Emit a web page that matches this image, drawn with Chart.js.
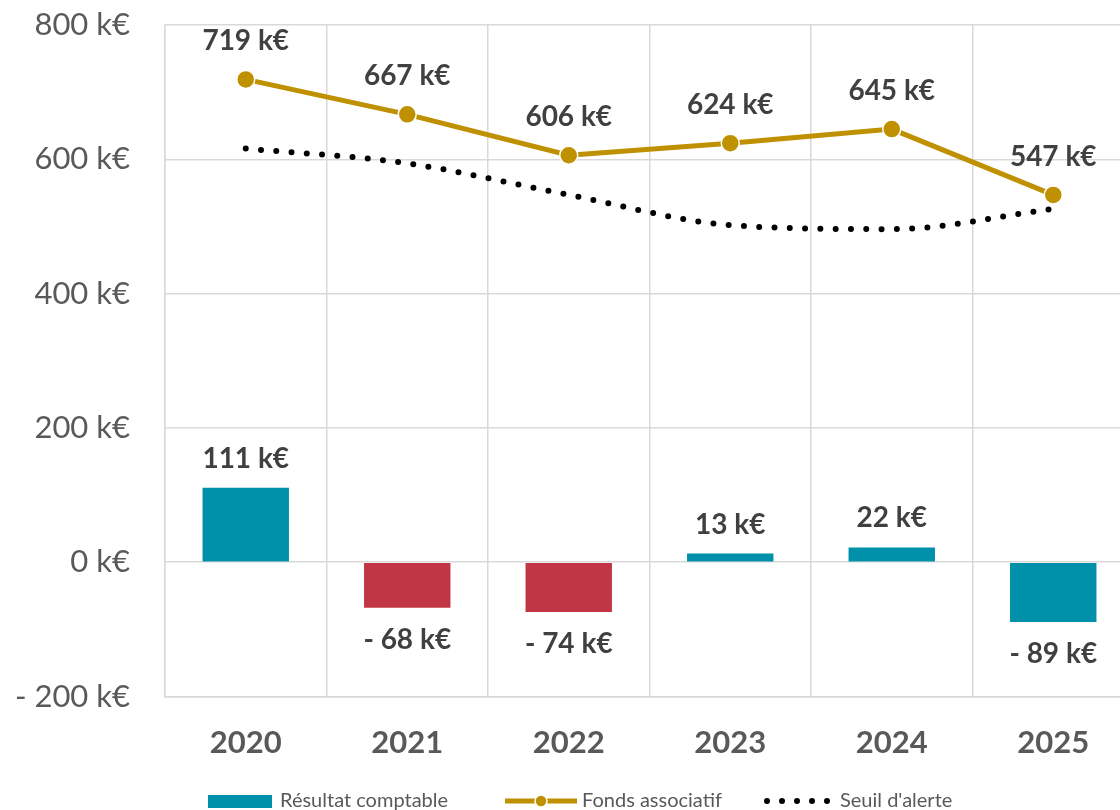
<!DOCTYPE html>
<html>
<head>
<meta charset="utf-8">
<script src="https://cdn.jsdelivr.net/npm/chart.js@4"></script>
<style>
  html, body { margin: 0; padding: 0; overflow: hidden; background: #fff; }
  #wrap { position: relative; width: 1140px; height: 810px; }
</style>
</head>
<body>
<div id="wrap"><canvas id="chart"></canvas></div>
<script>
const years = ["2020", "2021", "2022", "2023", "2024", "2025"];
const resultat = [111, -68, -74, 13, 22, -89];
const fonds = [719, 667, 606, 624, 645, 547];
const seuil = [616, 594, 547, 502, 496, 526];
const yTicks = [-200, 0, 200, 400, 600, 800];

const TEAL = "#0090A9";
const RED = "#C13545";
const GOLD = "#BF9000";
const FONT = "Lato, 'Open Sans', sans-serif";

const fmtK = (v) => (v < 0 ? `- ${Math.abs(v)} k€` : `${v} k€`);

// bars: red for 2021/2022, teal otherwise (as in the source)
const barColors = years.map((y) => (y === "2021" || y === "2022" ? RED : TEAL));

const valueLabels = {
  id: "valueLabels",
  afterDatasetsDraw(chart) {
    const { ctx } = chart;
    ctx.save();
    ctx.font = `bold 28px ${FONT}`;
    ctx.fillStyle = "#404040";
    ctx.textAlign = "center";
    ctx.textBaseline = "middle";
    chart.getDatasetMeta(0).data.forEach((bar, i) => {
      const v = resultat[i];
      const y = v >= 0 ? bar.y - 29 : bar.y + 32;
      ctx.fillText(fmtK(v), bar.x, y);
    });
    chart.getDatasetMeta(1).data.forEach((pt, i) => {
      ctx.fillText(fmtK(fonds[i]), pt.x, pt.y - 38);
    });
    ctx.restore();
  }
};

const bottomLegend = {
  id: "bottomLegend",
  afterDraw(chart) {
    const { ctx } = chart;
    const y = 801;
    ctx.save();
    ctx.font = `20px ${FONT}`;
    ctx.fillStyle = "#595959";
    ctx.textBaseline = "middle";
    ctx.textAlign = "left";

    let x = 208;
    ctx.fillStyle = TEAL;
    ctx.fillRect(x, y - 6, 64, 13);
    ctx.fillStyle = "#595959";
    ctx.fillText("Résultat comptable", x + 72, y);

    x = 505;
    ctx.strokeStyle = GOLD;
    ctx.lineWidth = 5;
    ctx.beginPath();
    ctx.moveTo(x, y);
    ctx.lineTo(x + 72, y);
    ctx.stroke();
    ctx.fillStyle = GOLD;
    ctx.strokeStyle = "#fff";
    ctx.lineWidth = 1.5;
    ctx.beginPath();
    ctx.arc(x + 36, y, 6, 0, Math.PI * 2);
    ctx.fill();
    ctx.stroke();
    ctx.fillStyle = "#595959";
    ctx.fillText("Fonds associatif", x + 77, y);

    x = 767;
    ctx.fillStyle = "#000";
    for (let k = 0; k < 5; k++) {
      ctx.beginPath();
      ctx.arc(x + k * 15, y, 3, 0, Math.PI * 2);
      ctx.fill();
    }
    ctx.fillStyle = "#595959";
    ctx.fillText("Seuil d'alerte", x + 73, y);
    ctx.restore();
  }
};

new Chart(document.getElementById("chart").getContext("2d"), {
  type: "bar",
  data: {
    labels: years,
    datasets: [
      {
        type: "bar",
        label: "Résultat comptable",
        data: resultat,
        backgroundColor: barColors,
        barPercentage: 1,
        categoryPercentage: 0.535,
        order: 3
      },
      {
        type: "line",
        label: "Fonds associatif",
        data: fonds,
        borderColor: GOLD,
        backgroundColor: GOLD,
        borderWidth: 5,
        pointRadius: 9,
        pointBackgroundColor: GOLD,
        pointBorderColor: "#fff",
        pointBorderWidth: 1.5,
        tension: 0,
        order: 1
      },
      {
        type: "line",
        label: "Seuil d'alerte",
        data: seuil,
        borderColor: "#000",
        borderWidth: 6,
        borderDash: [0, 15.3],
        borderCapStyle: "round",
        pointRadius: 0,
        cubicInterpolationMode: "monotone",
        order: 2
      }
    ]
  },
  options: {
    responsive: true,
    maintainAspectRatio: false,
    animation: false,
    layout: { autoPadding: false, padding: { top: 25, right: 6, left: 0, bottom: 0 } },
    plugins: { legend: { display: false }, tooltip: { enabled: false } },
    scales: {
      x: {
        offset: true,
        grid: { display: true, offset: true, color: "#D9D9D9", lineWidth: 1.5, drawTicks: false },
        border: { display: true, color: "#D9D9D9", width: 1.5 },
        ticks: { color: "#595959", padding: 28, font: { family: FONT, size: 31, weight: "bold" } },
        afterFit: (s) => { s.height = 113.5; s.paddingLeft = 0; s.paddingRight = 0; }
      },
      y: {
        min: -200,
        max: 800,
        afterBuildTicks: (s) => { s.ticks = yTicks.map((v) => ({ value: v })); },
        grid: { color: "#D9D9D9", lineWidth: 1.5, drawTicks: false },
        border: { display: true, color: "#D9D9D9", width: 1.5 },
        ticks: { color: "#595959", padding: 35, font: { family: FONT, size: 31 }, callback: (v) => fmtK(v) },
        afterFit: (s) => { s.width = 165; s.paddingTop = 0; s.paddingBottom = 0; }
      }
    }
  },
  plugins: [valueLabels, bottomLegend]
});
</script>
</body>
</html>
